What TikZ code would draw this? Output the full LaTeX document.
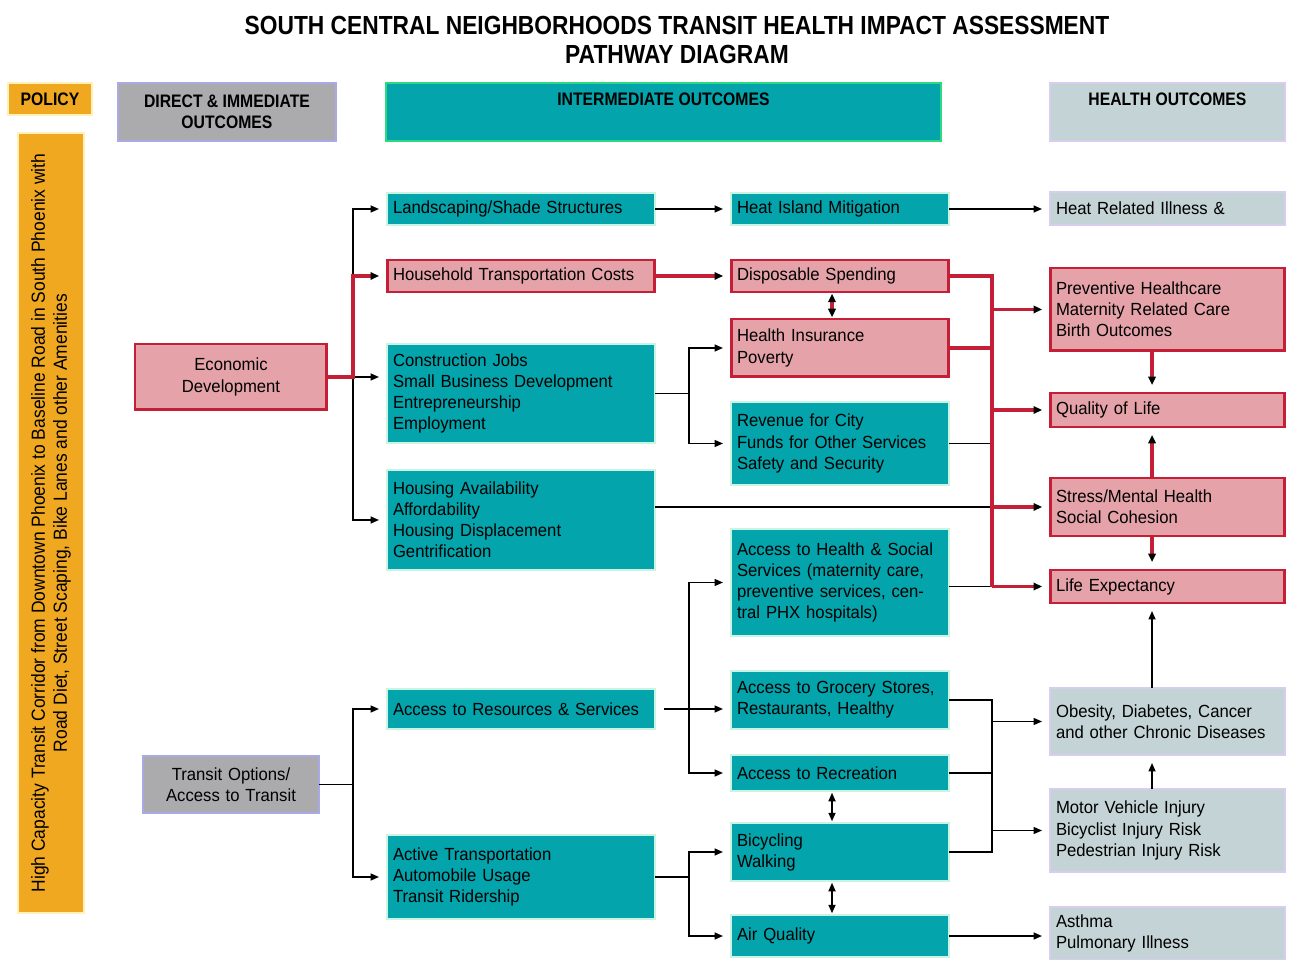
\documentclass[tikz,border=0pt]{standalone}
\usepackage{fontspec}
\setmainfont{Liberation Sans}[FakeStretch=0.95]
\newfontfamily\headfont{Liberation Sans}[FakeStretch=0.87]
\newfontfamily\barfont{Liberation Sans}[FakeStretch=0.92]
\usetikzlibrary{positioning,arrows.meta}

\definecolor{policyorange}{HTML}{EFA81F}
\definecolor{paleyellow}{HTML}{FFF1B8}
\definecolor{directgray}{HTML}{ABABAD}
\definecolor{lilac}{HTML}{A9A9E3}
\definecolor{tealfill}{HTML}{03A4AC}
\definecolor{mint}{HTML}{C9F3E3}
\definecolor{hdrgreen}{HTML}{2BD980}
\definecolor{pinkfill}{HTML}{E5A3A9}
\definecolor{redline}{HTML}{C41F36}
\definecolor{healthgray}{HTML}{C4D3D5}
\definecolor{palelilac}{HTML}{D8CDEE}

\tikzset{
  box/.style={draw, rectangle, anchor=north west, inner xsep=0.12cm, inner ysep=0pt,
    outer sep=0pt, align=left, font=\fontsize{10}{12}\selectfont},
  tealbox/.style={box, fill=tealfill, draw=mint, line width=1.1pt},
  pinkbox/.style={box, fill=pinkfill, draw=redline, line width=1.7pt},
  greybox/.style={box, fill=healthgray, draw=palelilac, line width=1pt},
  colB/.style={text width=5.12cm},
  colC/.style={text width=4.12cm},
  colD/.style={text width=4.46cm},
  hdr/.style={draw, rectangle, anchor=north west, inner sep=0pt, outer sep=0pt,
    line width=1pt, align=center, font=\headfont\bfseries\fontsize{10.3}{12}\selectfont},
  hdrtext/.style={inner sep=0pt, font=\headfont\bfseries\fontsize{10.3}{12}\selectfont},
  link/.style={draw=black, line width=0.9pt},
  arr/.style={link, -{Triangle[length=0.17cm,width=0.14cm]}, shorten >=0.16cm},
  dblarr/.style={link, {Triangle[length=0.17cm,width=0.14cm]}-{Triangle[length=0.17cm,width=0.14cm]},
    shorten >=1pt, shorten <=1pt},
  redlink/.style={draw=redline, line width=1.8pt},
  redarr/.style={redlink, -{Triangle[length=0.17cm,width=0.15cm,color=black]}, shorten >=0.16cm},
  reddbl/.style={redlink, {Triangle[length=0.17cm,width=0.15cm,color=black]}-{Triangle[length=0.17cm,width=0.15cm,color=black]},
    shorten >=1pt, shorten <=1pt},
}

\begin{document}
\begin{tikzpicture}[x=0.02cm,y=-0.02cm]
  \useasboundingbox (0,0) rectangle (1293,959);

  % title
  \node[align=center, font=\headfont\bfseries\fontsize{14.9}{17}\selectfont] (title) at (677,40)
    {SOUTH CENTRAL NEIGHBORHOODS TRANSIT HEALTH IMPACT ASSESSMENT\\PATHWAY DIAGRAM};

  % column headers
  \node[hdr, fill=policyorange, draw=paleyellow, minimum width=1.68cm, minimum height=0.64cm] (policy) at (8,83) {POLICY};
  \node[hdr, fill=directgray, draw=lilac, minimum width=4.36cm, minimum height=1.16cm] (hdirect) at (118,83)
    {DIRECT \& IMMEDIATE\\OUTCOMES};
  \node[hdr, fill=tealfill, draw=hdrgreen, minimum width=11.1cm, minimum height=1.16cm] (hinter) at (386,83) {};
  \node[hdrtext, below=0.2cm of hinter.north] {INTERMEDIATE OUTCOMES};
  \node[hdr, fill=healthgray, draw=palelilac, minimum width=4.7cm, minimum height=1.16cm] (hhealth) at (1050,83) {};
  \node[hdrtext, below=0.2cm of hhealth.north] {HEALTH OUTCOMES};

  % policy bar
  \node[draw=paleyellow, fill=policyorange, line width=1pt, minimum width=15.6cm, minimum height=1.32cm,
    inner sep=0pt, rotate=90, align=center, font=\barfont\fontsize{10.8}{12.5}\selectfont] (policybar) at (51,523)
    {High Capacity Transit Corridor from Downtown Phoenix to Baseline Road in South Phoenix with\\
     Road Diet, Street Scaping, Bike Lanes and other Amenities};

  % direct outcomes
  \node[pinkbox, align=center, text width=3.6cm, minimum height=1.32cm] (econ) at (135,344) {Economic\\Development};
  \node[box, fill=directgray, draw=lilac, line width=1pt, align=center, text width=3.28cm, minimum height=1.14cm]
    (transit) at (143,756) {Transit Options/\\Access to Transit};

  % intermediate outcomes, first column
  \node[tealbox, colB, minimum height=0.64cm] (land) at (387,193) {Landscaping/Shade Structures};
  \node[pinkbox, colB, minimum height=0.64cm] (house) at (387,260) {Household Transportation Costs};
  \node[tealbox, colB, minimum height=1.98cm] (constr) at (387,344)
    {Construction Jobs\\Small Business Development\\Entrepreneurship\\Employment};
  \node[tealbox, colB, minimum height=2cm] (housing) at (387,470)
    {Housing Availability\\Affordability\\Housing Displacement\\Gentrification};
  \node[tealbox, colB, minimum height=0.8cm] (resource) at (387,689) {Access to Resources \& Services};
  \node[tealbox, colB, minimum height=1.68cm] (active) at (387,835)
    {Active Transportation\\Automobile Usage\\Transit Ridership};

  % intermediate outcomes, second column
  \node[tealbox, colC, minimum height=0.64cm] (heat) at (731,193) {Heat Island Mitigation};
  \node[pinkbox, colC, minimum height=0.64cm] (dispo) at (731,260) {Disposable Spending};
  \node[pinkbox, colC, minimum height=1.16cm] (insur) at (731,319) {Health Insurance\\Poverty};
  \node[tealbox, colC, minimum height=1.66cm] (revenue) at (731,402)
    {Revenue for City\\Funds for Other Services\\Safety and Security};
  \node[tealbox, colC, minimum height=2.14cm] (acchealth) at (731,529)
    {Access to Health \& Social\\Services (maternity care,\\preventive services, cen-\\tral PHX hospitals)};
  \node[tealbox, colC, minimum height=1.16cm] (grocery) at (731,671) {Access to Grocery Stores,\\Restaurants, Healthy};
  \node[tealbox, colC, minimum height=0.72cm] (recre) at (731,755) {Access to Recreation};
  \node[tealbox, colC, minimum height=1.16cm] (bike) at (731,823) {Bicycling\\Walking};
  \node[tealbox, colC, minimum height=0.84cm] (air) at (731,915) {Air Quality};

  % health outcomes
  \node[greybox, colD, minimum height=0.66cm] (heatill) at (1050,192) {Heat Related Illness \&};
  \node[pinkbox, colD, minimum height=1.66cm] (prevent) at (1050,268)
    {Preventive Healthcare\\Maternity Related Care\\Birth Outcomes};
  \node[pinkbox, colD, minimum height=0.68cm] (qol) at (1050,393) {Quality of Life};
  \node[pinkbox, colD, minimum height=1.16cm] (stress) at (1050,478) {Stress/Mental Health\\Social Cohesion};
  \node[pinkbox, colD, minimum height=0.66cm] (lifeexp) at (1050,570) {Life Expectancy};
  \node[greybox, colD, minimum height=1.34cm] (obesity) at (1050,688)
    {Obesity, Diabetes, Cancer\\and other Chronic Diseases};
  \node[greybox, colD, minimum height=1.66cm] (motor) at (1050,789)
    {Motor Vehicle Injury\\Bicyclist Injury Risk\\Pedestrian Injury Risk};
  \node[greybox, colD, minimum height=1.06cm] (asthma) at (1050,907) {Asthma\\Pulmonary Illness};

  % junctions
  \path (econ.east) ++(26,0) coordinate (ej);
  \path (transit.east) ++(34,0) coordinate (tj);
  \path (constr.east) ++(34,0) coordinate (cj);
  \path (dispo.east) ++(43,0) coordinate (rb);
  \coordinate (dx) at (832,0);
  \coordinate (vx) at (1152,0);

  % economic development
  \draw[arr] (ej) |- (land.west);
  \draw[arr] (ej) |- (housing.west);
  \draw[arr] (ej) -- (ej -| constr.west);
  \draw[redarr] (econ.east) -- (ej) |- (house.west);

  \draw[arr] (land.east) -- (land.east -| heat.west);
  \draw[arr] (heat.east) -- (heat.east -| heatill.west);
  \draw[redarr] (house.east) -- (house.east -| dispo.west);

  \draw[link] (constr.east) -- (cj);
  \draw[arr] (cj) |- (insur.west);
  \draw[arr] (cj) |- (revenue.west);
  \draw[reddbl] (dx |- dispo.south) -- (dx |- insur.north);

  % into the red bus
  \draw[link] (revenue.east) -- (revenue.east -| rb);
  \draw[link] (housing.east |- stress.west) -- (stress.west -| rb);
  \draw[link] (acchealth.east |- lifeexp.west) -- (lifeexp.west -| rb);
  \draw[redlink] (dispo.east) -| (lifeexp.west -| rb);
  \draw[redlink] (insur.east) -- (insur.east -| rb);
  \draw[redarr] (rb |- prevent.west) -- (prevent.west);
  \draw[redarr] (rb |- qol.west) -- (qol.west);
  \draw[redarr] (rb |- stress.west) -- (stress.west);
  \draw[redarr] (rb |- lifeexp.west) -- (lifeexp.west);

  \draw[redarr] (vx |- prevent.south) -- (vx |- qol.north);
  \draw[redarr] (vx |- stress.north) -- (vx |- qol.south);
  \draw[redarr] (vx |- stress.south) -- (vx |- lifeexp.north);

  % transit options
  \draw[link] (transit.east) -- (tj);
  \draw[arr] (tj) |- (resource.west);
  \draw[arr] (tj) |- (active.west);

  \draw[arr, shorten <=0.18cm] (resource.east) -- (resource.east -| grocery.west);
  \draw[arr] (cj |- resource.east) |- (acchealth.west);
  \draw[arr] (cj |- resource.east) |- (recre.west);

  \draw[link] (active.east) -- (cj |- active.east);
  \draw[arr] (cj |- active.east) |- (bike.west);
  \draw[arr] (cj |- active.east) |- (air.west);

  \draw[dblarr] (dx |- recre.south) -- (dx |- bike.north);
  \draw[dblarr] (dx |- bike.south) -- (dx |- air.north);

  \draw[link] (grocery.east) -| (rb |- bike.east) -- (bike.east);
  \draw[link] (recre.east) -- (rb |- recre.east);
  \draw[arr] (rb |- obesity.west) -- (obesity.west);
  \draw[arr] (rb |- motor.west) -- (motor.west);

  \draw[arr] (vx |- obesity.north) -- (vx |- lifeexp.south);
  \draw[arr] (vx |- motor.north) -- (vx |- obesity.south);
  \draw[arr] (air.east) -- (air.east -| asthma.west);
\end{tikzpicture}
\end{document}
